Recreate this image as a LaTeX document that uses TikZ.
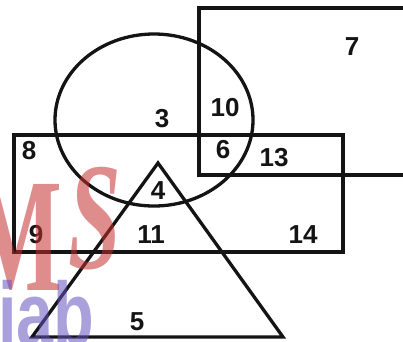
\documentclass[tikz,border=0pt]{standalone}
\usepackage{fontspec}
\setmainfont{Liberation Sans}
\newfontfamily\markserif{Liberation Serif}
\usepackage{xcolor}
\definecolor{Ink}{RGB}{20,20,20}
\definecolor{MarkRose}{RGB}{195,46,46}
\definecolor{MarkLilac}{RGB}{100,82,191}
\tikzset{
  setline/.style={draw=Ink,line width=3.3pt,line join=miter},
  rlabel/.style={font=\fontsize{26}{26}\selectfont\bfseries,text=Ink,inner sep=0pt},
  wmark/.style={inner sep=0pt,anchor=base west,opacity=0.55},
}

\begin{document}
\begin{tikzpicture}[x=1pt,y=-1pt]
    \useasboundingbox (0,0) rectangle (403,341);
    \clip (0,0) rectangle (403,341);
    % the sets
    \draw[setline] (199,8) rectangle (420,175);
    \draw[setline] (14,135) rectangle (343,252);
    \draw[setline] (154,120) ellipse [x radius=99,y radius=86];
    \draw[setline] (158,163) -- (283,337) -- (32,337) -- cycle;
    % region counts
    \node[rlabel] (n7)  at (352,47)  {7};
    \node[rlabel] (n10) at (225,108) {10};
    \node[rlabel] (n3)  at (162,119) {3};
    \node[rlabel] (n8)  at (29,151)  {8};
    \node[rlabel] (n6)  at (223,150) {6};
    \node[rlabel] (n13) at (274,158) {13};
    \node[rlabel] (n4)  at (158,191) {4};
    \node[rlabel] (n9)  at (36,235)  {9};
    \node[rlabel] (n11) at (151,235) {11};
    \node[rlabel] (n14) at (303,235) {14};
    \node[rlabel] (n5)  at (137,322) {5};
    % watermark laid over the drawing
    \node[wmark,text=MarkRose,font=\markserif\bfseries\fontsize{162}{162}\selectfont,
          xscale=0.6] (wmM) at (-30,290) {M};
    \node[wmark,text=MarkRose,font=\markserif\bfseries\itshape\fontsize{153}{153}\selectfont,
          xscale=0.62] (wmS) at (68,268) {S};
    \node[wmark,text=MarkLilac,font=\fontsize{90}{90}\selectfont\bfseries,
          xscale=0.74] (wmiab) at (-2,345) {iab};
\end{tikzpicture}
\end{document}
